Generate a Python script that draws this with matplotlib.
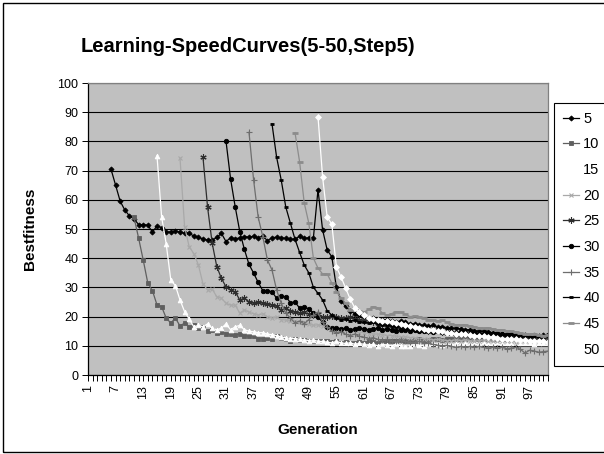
import numpy as np
import matplotlib
matplotlib.use("Agg")
import matplotlib.pyplot as plt
from matplotlib.patches import Rectangle

plt.rcParams['font.family'] = ['Liberation Sans', 'DejaVu Sans']

title = "Learning-SpeedCurves(5-50,Step5)"
series_names = ["5", "10", "15", "20", "25", "30", "35", "40", "45", "50"]
# first generation of each series (series k starts at k + 1)
start_gen = [6, 11, 16, 21, 26, 31, 36, 41, 46, 51]

s5 = [70.5, 65.0, 59.5, 56.5, 54.5, 53.5, 51.5, 51.5, 51.3, 49.0,
      51.0, 50.5, 49.0, 49.0, 49.2, 49.0, 48.5, 48.5, 47.6, 47.1,
      46.6, 46.2, 46.2, 47.1, 48.5, 45.7, 47.0, 46.7, 46.9, 47.4,
      47.2, 47.5, 47.0, 47.6, 46.0, 47.0, 47.2, 47.0, 46.8, 46.5,
      46.5, 47.5, 46.8, 47.0, 47.0,
      63.4,
      49.7, 42.8, 40.5, 30.0, 25.5, 23.5, 22.0, 21.0, 20.5, 20.0,
      19.5, 19.5, 19.0, 18.8, 19.0, 18.5, 18.2, 18.5, 18.0, 17.5,
      17.5, 17.2, 17.0, 16.8, 17.0, 16.5, 16.5, 16.2, 16.0, 16.0,
      15.8, 15.5, 15.5, 15.2, 15.0, 15.0, 14.8, 14.5, 14.5, 14.2,
      14.0, 14.0, 14.0, 13.8, 13.8, 13.5, 13.5, 13.5, 13.8, 13.5]
s10 = [54.0, 46.9, 39.4, 31.5, 28.9, 24.0, 23.4, 19.5, 17.8, 19.5,
       16.8, 17.8, 16.5, 17.0, 16.0, 16.5, 15.0, 15.5, 14.5, 14.8,
       14.2, 14.0, 13.8, 14.0, 13.5, 13.2, 13.5, 12.5, 12.5, 12.8,
       12.5, 13.2, 12.8, 12.2, 11.8, 12.5, 12.0, 12.0, 11.8, 11.5,
       11.8, 11.5, 11.5, 11.2, 11.5, 11.0, 11.2, 11.0, 11.0, 11.2,
       11.0, 11.5, 11.2, 11.0, 11.5, 11.8, 11.5, 11.8, 12.0, 11.5,
       11.8, 12.0, 12.2, 11.8, 12.0, 12.2, 12.5, 12.0, 12.2, 12.5,
       12.2, 12.5, 12.5, 12.8, 12.5, 12.2, 12.5, 12.8, 12.5, 12.5,
       12.2, 12.5, 12.8, 12.5, 12.2, 12.0, 12.3, 12.0, 11.8, 12.0, 11.8]
s15 = [75.0, 54.2, 44.9, 32.5, 30.6, 25.7, 21.7, 19.2, 16.5, 17.0,
       16.5, 17.5, 16.0, 15.5, 16.0, 17.5, 15.5, 16.5, 17.0, 15.5,
       15.0, 14.8, 14.5, 14.5, 14.0, 13.8, 13.5, 13.0, 12.8, 12.5,
       12.5, 12.2, 12.0, 11.8, 12.0, 11.5, 11.5, 11.2, 11.0, 11.5,
       11.0, 10.8, 11.0, 10.5, 10.8, 10.5, 10.2, 10.5, 10.0, 10.5,
       10.2, 10.0, 10.5, 10.0, 9.8, 10.0, 10.5, 10.2, 10.0, 10.5,
       10.8, 10.5, 10.2, 10.5, 10.8, 10.5, 11.0, 10.8, 11.0, 11.2,
       11.0, 11.2, 11.0, 10.8, 11.2, 11.0, 10.8, 11.0, 11.2, 11.0,
       10.8, 11.0, 10.5, 10.8, 11.0, 10.8]
s20 = [74.3, 50.8, 43.9, 41.6, 37.7, 31.2, 29.1, 29.4, 26.8, 26.3,
       24.6, 23.9, 23.9, 21.2, 22.3, 21.5, 21.0, 20.5, 21.0, 20.0,
       19.5, 19.8, 19.0, 18.8, 18.5, 18.5, 18.0, 17.8, 17.5, 17.0,
       17.2, 16.8, 16.5, 16.0, 15.8, 15.5, 15.5, 15.0, 14.8, 14.5,
       14.5, 14.2, 14.0, 14.0, 13.8, 13.5, 13.5, 13.2, 13.0, 13.0,
       12.8, 12.8, 12.5, 12.5, 12.2, 12.0, 12.2, 12.0, 11.8, 11.8,
       12.0, 11.8, 12.0, 11.8, 11.5, 11.8, 12.0, 11.8, 11.5, 11.8,
       11.5, 11.8, 11.5, 11.2, 11.5, 11.8, 11.5, 12.0, 11.8, 12.0, 12.2]
s25 = [74.5, 57.4, 45.1, 37.1, 33.1, 30.2, 29.1, 28.5, 25.7, 26.3,
       25.1, 24.6, 25.0, 24.6, 24.3, 24.0, 23.5, 22.3, 22.8, 22.0,
       21.5, 21.2, 21.5, 20.8, 20.5, 20.8, 20.0, 19.8, 20.2, 19.8,
       19.5, 19.5, 19.8, 19.2, 19.0, 18.5, 18.5, 18.0, 17.8, 17.5,
       17.2, 17.0, 16.8, 16.5, 16.5, 16.0, 15.8, 15.5, 15.5, 15.2,
       15.0, 15.0, 14.8, 14.5, 14.5, 14.2, 14.0, 14.0, 13.8, 13.8,
       13.5, 13.5, 13.2, 13.5, 13.2, 13.0, 13.2, 13.0, 12.8, 13.0,
       12.8, 12.5, 12.8, 12.5, 12.8, 12.5]
s30 = [80.1, 67.1, 57.6, 49.1, 43.0, 37.9, 34.9, 31.7, 28.9, 28.9,
       28.5, 26.3, 27.0, 26.8, 24.8, 25.0, 22.9, 23.2, 22.7, 21.2,
       20.0, 18.0, 16.5, 16.0, 16.2, 15.8, 16.0, 15.5, 15.8, 16.0,
       15.8, 15.5, 15.8, 16.0, 15.5, 15.8, 15.5, 15.2, 15.5, 15.5,
       15.2, 15.5, 15.0, 15.2, 15.0, 14.8, 15.0, 14.8, 14.5, 14.8,
       14.5, 14.8, 14.5, 14.2, 14.5, 14.2, 14.0, 14.2, 14.0, 14.2,
       14.0, 13.8, 14.0, 13.8, 13.5, 13.8, 13.5, 13.8, 13.5, 13.5, 13.8]
s35 = [83.1, 66.8, 54.0, 47.4, 39.4, 36.0, 29.1, 24.6, 21.2, 19.5,
       17.8, 18.5, 17.5, 19.0, 20.5, 21.5, 18.0, 16.5, 15.0, 14.5,
       14.8, 14.0, 13.5, 14.0, 13.2, 13.0, 12.5, 12.8, 12.2, 12.0,
       12.2, 11.8, 11.5, 12.0, 11.5, 11.2, 11.0, 11.5, 11.0, 10.8,
       10.5, 10.2, 10.0, 10.2, 9.8, 9.5, 9.8, 9.5, 9.8, 9.5,
       9.8, 9.5, 9.2, 9.5, 9.2, 9.5, 9.0, 9.2, 9.5, 8.8,
       7.5, 8.5, 8.2, 7.8, 8.0, 8.2]
s40 = [86.0, 74.6, 66.8, 57.5, 52.0, 46.5, 42.0, 37.7, 35.0, 30.0,
       28.0, 25.7, 22.0, 20.5, 19.5, 19.0, 19.2, 18.5, 18.8, 18.2,
       18.0, 17.8, 18.0, 17.5, 17.2, 17.0, 16.8, 16.5, 16.5, 16.2,
       16.0, 15.8, 15.5, 15.5, 15.2, 15.0, 15.0, 14.8, 14.5, 14.5,
       14.2, 14.5, 14.2, 14.0, 14.0, 13.8, 14.0, 13.8, 13.5, 13.8,
       13.5, 13.5, 13.8, 13.5, 13.2, 13.5, 13.2, 13.5, 13.2, 13.0, 13.2]
s45 = [83.0, 73.0, 59.0, 52.0, 40.0, 36.6, 34.6, 34.6, 31.5, 28.5,
       26.5, 24.5, 22.3, 22.9, 22.0, 21.5, 22.5, 23.4, 23.0, 21.2,
       20.5, 21.0, 21.7, 21.5, 20.8, 20.0, 20.2, 20.0, 19.5, 19.0,
       18.8, 18.5, 18.8, 18.0, 17.5, 17.2, 17.0, 17.1, 16.8, 16.5,
       16.2, 16.0, 16.2, 15.8, 15.5, 15.5, 15.2, 15.0, 14.8, 14.5,
       14.2, 14.0, 14.2, 13.8, 13.5, 13.8]
s50 = [88.4, 67.8, 54.0, 51.7, 37.0, 33.6, 29.8, 26.0, 23.0, 21.5,
       20.5, 19.5, 19.2, 19.0, 18.5, 18.5, 18.0, 17.8, 17.5, 17.0,
       16.8, 16.5, 16.0, 15.8, 15.5, 15.5, 15.0, 15.0, 14.5, 14.5,
       14.2, 14.0, 14.0, 13.8, 13.5, 13.5, 13.2, 13.0, 13.0, 12.8,
       12.5, 12.5, 12.3, 12.2, 12.0, 12.0, 11.8, 11.8, 11.5, 11.5, 11.4]

series_values = [s5, s10, s15, s20, s25, s30, s35, s40, s45, s50]
tick_gens = list(range(1, 98, 6))
n_gen = 101

# (colour, marker, marker size, marker edge width)
styles = [
    ("black", "D", 2.6, 0.6),
    ("#5f5f5f", "s", 3.2, 0.6),
    ("white", "^", 3.4, 0.6),
    ("#a9a9a9", "x", 3.4, 0.8),
    ("#2e2e2e", (6, 2, 0), 4.5, 0.8),
    ("black", "o", 3.2, 0.6),
    ("#6e6e6e", "+", 4.5, 0.8),
    ("black", "_", 3.5, 2.0),
    ("#8c8c8c", "_", 4.5, 2.0),
    ("white", "D", 3.0, 0.6),
]

fig = plt.figure(figsize=(6.04, 4.54), dpi=100)
ax = fig.add_axes([88 / 604, 1 - 375 / 454, 460 / 604, 292 / 454])
ax.set_facecolor("#c0c0c0")

for name, start, vals, (col, mk, ms, mew) in zip(series_names, start_gen, series_values, styles):
    gens = np.arange(start, start + len(vals))
    ax.plot(gens, vals, color=col, lw=0.9, marker=mk, ms=ms, mew=mew,
            mfc=col, mec=col, label=name)

ax.set_xlim(1, n_gen)
ax.set_ylim(0, 100)
ax.set_yticks(range(0, 101, 10))
ax.set_xticks(tick_gens)
ax.set_xticklabels([str(t) for t in tick_gens], rotation=90, fontsize=9)
ax.set_xticks(range(1, n_gen + 1), minor=True)
ax.tick_params(axis="x", which="both", direction="out", length=4, width=0.7, pad=3)
ax.tick_params(axis="y", direction="out", length=4, width=0.7, labelsize=9, pad=3)
ax.yaxis.grid(True, color="black", lw=0.8)
ax.set_axisbelow(True)
for side in ["left", "bottom"]:
    ax.spines[side].set_color("black")
    ax.spines[side].set_linewidth(0.9)
for side in ["top", "right"]:
    ax.spines[side].set_color("#808080")
    ax.spines[side].set_linewidth(0.9)

fig.text(0.41, 1 - 46 / 454, title, ha="center", va="center",
         fontsize=14.5, fontweight="bold")
fig.text(30 / 604, 1 - 229 / 454, "Bestfitness", rotation=90, ha="center",
         va="center", fontsize=11, fontweight="bold")
fig.text(318 / 604, 1 - 430 / 454, "Generation", ha="center", va="center",
         fontsize=11, fontweight="bold")

leg = fig.legend(loc="upper left", bbox_to_anchor=(554 / 604, 1 - 103 / 454),
                 fontsize=10.5, frameon=True, fancybox=False, edgecolor="black",
                 framealpha=1, borderaxespad=0, borderpad=0.6,
                 labelspacing=0.8, handlelength=1.1, handletextpad=0.3)
leg.get_frame().set_linewidth(0.8)

fig.patches.append(Rectangle((3 / 604, 2 / 454), 1.0, 1 - 5 / 454, fill=False,
                             edgecolor="black", lw=1.0, transform=fig.transFigure))

fig.savefig("out.png", dpi=100)
